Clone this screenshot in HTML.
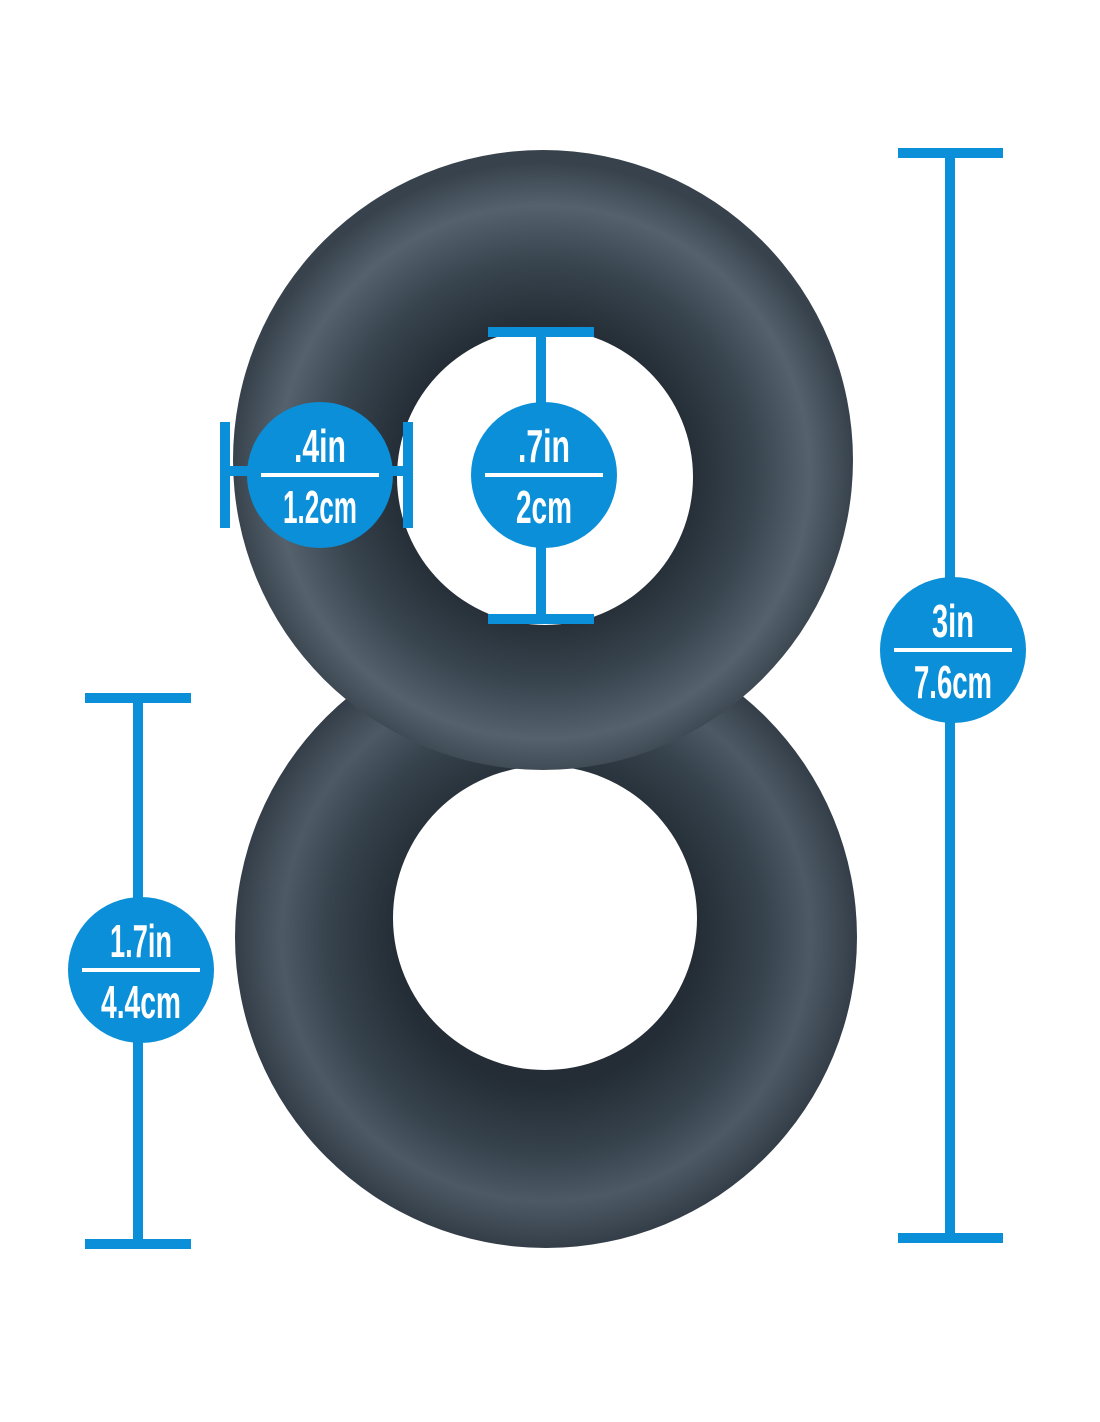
<!DOCTYPE html>
<html><head><meta charset="utf-8"><style>
html,body{margin:0;padding:0;background:#fff;}
svg{display:block}
text{font-family:"Liberation Sans Narrow","Liberation Sans",sans-serif;font-weight:bold;fill:#fff;}
</style></head><body>
<svg width="1100" height="1422" viewBox="0 0 1100 1422" xmlns="http://www.w3.org/2000/svg">
<defs>
<radialGradient id="gb" cx="0.5" cy="0.5" r="0.5">
<stop offset="0.48" stop-color="#242d36"/>
<stop offset="0.7" stop-color="#36424c"/>
<stop offset="0.85" stop-color="#4d5a65"/>
<stop offset="1" stop-color="#343e48"/>
</radialGradient>
<radialGradient id="gt" cx="0.5" cy="0.52" r="0.5">
<stop offset="0.46" stop-color="#242d36"/>
<stop offset="0.68" stop-color="#38444e"/>
<stop offset="0.86" stop-color="#55626d"/>
<stop offset="1" stop-color="#37424c"/>
</radialGradient>
</defs>
<path fill="url(#gb)" fill-rule="evenodd" d="M235,937a311,311 0 1,0 622,0a311,311 0 1,0 -622,0Z M393,918a152,152 0 1,0 304,0a152,152 0 1,0 -304,0Z"/>
<path fill="url(#gt)" fill-rule="evenodd" d="M233,460a310,310 0 1,0 620,0a310,310 0 1,0 -620,0Z M397,477a148,148 0 1,0 296,0a148,148 0 1,0 -296,0Z"/>
<g fill="#0a8fd8">
<rect x="898" y="148" width="105" height="10"/><rect x="898" y="1233" width="105" height="10"/><rect x="945" y="148" width="10" height="1095"/>
<circle cx="953" cy="650" r="73"/>
<rect x="85" y="693" width="106" height="10"/><rect x="85" y="1239" width="106" height="10"/><rect x="133" y="693" width="10" height="556"/>
<circle cx="141" cy="970" r="73"/>
<rect x="488" y="327" width="106" height="10"/><rect x="488" y="614" width="106" height="10"/><rect x="536" y="327" width="10" height="297"/>
<circle cx="544" cy="475" r="73"/>
<rect x="220" y="422" width="10" height="106"/><rect x="403" y="422" width="10" height="106"/><rect x="220" y="466" width="193" height="10"/>
<circle cx="320" cy="475" r="73"/>
</g>
<g fill="#fff">
<rect x="261" y="473" width="118" height="4"/><rect x="485" y="473" width="118" height="4"/>
<rect x="894" y="648" width="118" height="4"/><rect x="82" y="968" width="118" height="4"/>
</g>
<g font-size="46" text-anchor="middle">
<text x="320" y="462" textLength="52" lengthAdjust="spacingAndGlyphs">.4in</text>
<text x="320" y="523" textLength="74" lengthAdjust="spacingAndGlyphs">1.2cm</text>
<text x="544" y="462" textLength="52" lengthAdjust="spacingAndGlyphs">.7in</text>
<text x="544" y="523" textLength="56" lengthAdjust="spacingAndGlyphs">2cm</text>
<text x="953" y="637" textLength="42" lengthAdjust="spacingAndGlyphs">3in</text>
<text x="953" y="698" textLength="78" lengthAdjust="spacingAndGlyphs">7.6cm</text>
<text x="141" y="957" textLength="62" lengthAdjust="spacingAndGlyphs">1.7in</text>
<text x="141" y="1018" textLength="80" lengthAdjust="spacingAndGlyphs">4.4cm</text>
</g>
</svg>
</body></html>
